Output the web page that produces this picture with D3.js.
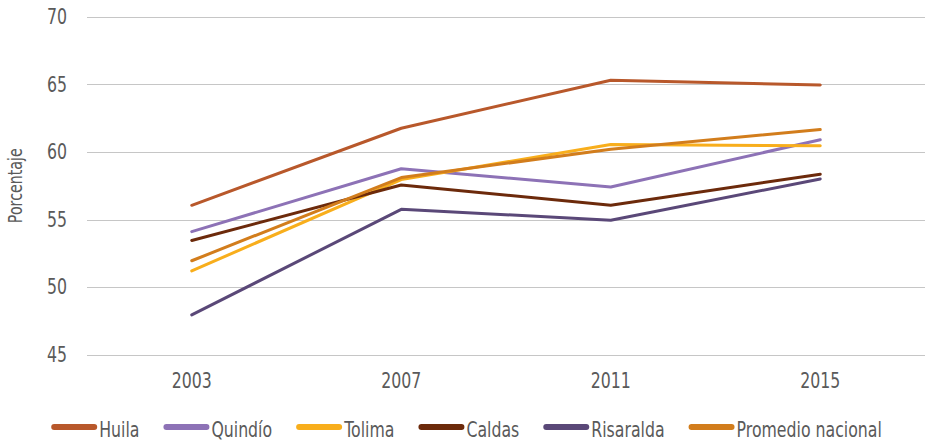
<!DOCTYPE html>
<html>
<head>
<meta charset="utf-8">
<script src="https://cdn.jsdelivr.net/npm/d3@7"></script>
<style>
  html, body { margin: 0; padding: 0; background: #fff; }
  svg text { font-family: "DejaVu Sans", sans-serif; fill: #5a5a5a; }
</style>
</head>
<body>
<svg id="chart" width="930" height="444"></svg>
<script>
const years = ["2003", "2007", "2011", "2015"];
const yTicks = [45, 50, 55, 60, 65, 70];
const seriesNames = ["Huila", "Quindío", "Tolima", "Caldas", "Risaralda", "Promedio nacional"];
const huila = [56.05, 61.75, 65.3, 64.95];
const quindio = [54.1, 58.75, 57.4, 60.9];
const tolima = [51.2, 57.95, 60.55, 60.45];
const caldas = [53.45, 57.55, 56.05, 58.35];
const risaralda = [47.95, 55.75, 54.95, 58.0];
const promedio = [51.95, 58.1, 60.2, 61.65];
const colors = ["#B8582B", "#8D72B6", "#F8AE1C", "#6C2A0B", "#5A4878", "#D27D1C"];

const seriesValues = [huila, quindio, tolima, caldas, risaralda, promedio];
const series = seriesNames.map((name, i) => ({ name, values: seriesValues[i], color: colors[i] }));

const svg = d3.select("#chart");
const margin = { left: 87, right: 5, top: 16.7, bottom: 89.3 };
const W = 930, H = 444;
const K = 0.75; // horizontal condensing of text to imitate a condensed face

const x = d3.scaleBand().domain(years).range([margin.left, W - margin.right]);
const y = d3.scaleLinear().domain([45, 70]).range([H - margin.bottom, margin.top]);

// gridlines
svg.append("g")
  .selectAll("line")
  .data(yTicks)
  .join("line")
  .attr("x1", margin.left)
  .attr("x2", W - margin.right)
  .attr("y1", d => Math.round(y(d)) + 0.5)
  .attr("y2", d => Math.round(y(d)) + 0.5)
  .attr("stroke", "#c6c6c6")
  .attr("stroke-width", 1.2);

// y axis labels
const yAxis = d3.axisLeft(y).tickValues(yTicks).tickSize(0).tickPadding(20 / K);
const gy = svg.append("g").attr("transform", `translate(${margin.left},0)`).call(yAxis);
gy.attr("font-family", null).attr("font-size", null);
gy.select(".domain").remove();
gy.selectAll("text").style("font-size", "21px").attr("fill", "#5a5a5a")
  .attr("transform", `scale(${K},1)`);

// x axis labels
const xAxis = d3.axisBottom(x).tickSize(0).tickPadding(18);
const gx = svg.append("g").attr("transform", `translate(0,${H - margin.bottom})`).call(xAxis);
gx.attr("font-family", null).attr("font-size", null);
gx.select(".domain").remove();
gx.selectAll("text").style("font-size", "21px").attr("fill", "#5a5a5a")
  .attr("transform", `scale(${K},1)`);

// y axis title
svg.append("text")
  .attr("transform", `translate(22,${(margin.top + H - margin.bottom) / 2}) rotate(-90) scale(${K},1)`)
  .attr("text-anchor", "middle")
  .style("font-size", "19px")
  .text("Porcentaje");

// lines
const line = d3.line()
  .x((d, i) => x(years[i]) + x.bandwidth() / 2)
  .y(d => y(d));

svg.append("g")
  .selectAll("path")
  .data(series)
  .join("path")
  .attr("d", d => line(d.values))
  .attr("fill", "none")
  .attr("stroke", d => d.color)
  .attr("stroke-width", 3)
  .attr("stroke-linejoin", "round")
  .attr("stroke-linecap", "round");

// legend
const legend = svg.append("g");
const items = legend.selectAll("g").data(series).join("g");
items.append("line")
  .attr("x1", 3).attr("x2", 43)
  .attr("y1", -3).attr("y2", -3)
  .attr("stroke", d => d.color)
  .attr("stroke-width", 6)
  .attr("stroke-linecap", "round");
items.append("text")
  .attr("transform", `translate(48,0) scale(${K},1)`)
  .attr("y", 0)
  .attr("dy", "0.35em")
  .style("font-size", "21px")
  .text(d => d.name);

const gap = 27;
let widths = [];
items.each(function() {
  widths.push(this.getBBox().width);
});
const total = d3.sum(widths) + gap * (widths.length - 1);
let cx = (W - total) / 2;
items.attr("transform", (d, i) => {
  const t = `translate(${cx},${430})`;
  cx += widths[i] + gap;
  return t;
});
</script>
</body>
</html>
